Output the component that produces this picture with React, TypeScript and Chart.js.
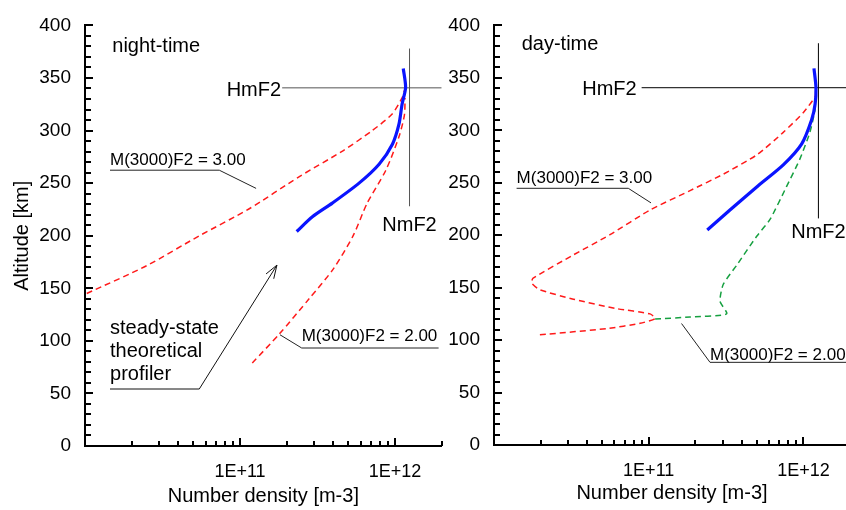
import React, { useEffect, useRef } from 'react';
import { Chart, registerables } from 'chart.js';

Chart.register(...registerables);

const FONT = '"Liberation Sans", Arial, Helvetica, sans-serif';
Chart.defaults.font.family = FONT;
Chart.defaults.color = '#000';

// ---- data: densities in units of 1e11 m-3, altitudes in km ----
// night-time
const nightBlueN = [2.32, 2.93, 3.94, 5.86, 7.89, 9.62, 10.6, 11.1, 11.7, 11.3];
const nightBlueH = [204, 218, 231, 250, 268, 287, 306, 325, 341, 359];
const nightM3N = [0.1026, 0.25, 0.543, 1.14, 2.4, 4.64, 7.13, 9.55, 11.1, 11.5];
const nightM3H = [145, 171.5, 199.7, 225.4, 256, 281, 300, 315.5, 331, 338];
const nightM2N = [1.2, 1.78, 2.79, 3.98, 5.37, 6.61, 8.71, 10.6, 11.5, 11.6];
const nightM2H = [79, 106, 140, 168, 200, 231, 262, 294, 315, 331];
// day-time
const dayBlueN = [2.39, 3.35, 4.99, 7.41, 9.75, 11.3, 11.9, 12.05, 11.7];
const dayBlueH = [205, 224, 246, 267, 287, 310, 325, 341, 359];
const dayM3N = [0.198, 0.536, 0.879, 1.1, 1.02, 0.621, 0.326, 0.198, 0.175, 0.179, 0.324, 0.562, 1.02, 1.85, 3.02, 4.99, 7.41, 10.0, 11.9, 12.0];
const dayM3H = [105, 111, 116, 120.5, 125, 130, 139, 148, 154.5, 159, 181, 200.5, 224, 242.5, 258, 276.5, 298, 317, 332, 338];
const dayM2N = [1.1, 1.85, 3.19, 2.89, 3.03, 3.71, 4.99, 6.08, 7.76, 9.51, 11.0, 11.9, 12.0];
const dayM2H = [120, 122, 125, 137, 153, 171.5, 199, 215, 246, 273, 298, 320, 332];

// reference markers (HmF2 / NmF2)
const nightHm = { h: 340.6, from: 1.87, to: 20 };
const nightNm = { n: 12.4, from: 228, to: 378 };
const dayHm = { h: 340.6, from: 0.9, to: 20 };
const dayNm = { n: 12.5, from: 216, to: 383 };

// axes
const xMin = 1e10;
const xMax = 2e12;
const xDecades = [1e10, 1e11, 1e12];
const xMantissas = [1, 2, 3, 4, 5, 6, 7, 8, 9];
const xLabelValues = [1e11, 1e12];
const xLabelTexts = ['1E+11', '1E+12'];
const yMin = 0;
const yMax = 400;
const yMinorStep = 10;
const yMajorStep = 50;

const xTickValues = xDecades.flatMap((d) => xMantissas.map((m) => m * d)).filter((v) => v <= xMax * 1.0001);
const yTickValues: number[] = [];
for (let v = yMin; v <= yMax; v += yMinorStep) yTickValues.push(v);

const BLUE = '#0a14ff';
const RED = '#ff1a1a';
const GREEN = '#16a040';

const pts = (n: number[], h: number[]) => n.map((v, i) => ({ x: v * 1e11, y: h[i] }));

type Note =
  | { kind: 'text'; x: number; y: number; text: string; size: number; align: CanvasTextAlign }
  | { kind: 'path'; p: [number, number][]; color: string; width: number; arrow?: boolean };

const nightNotes: Note[] = [
  { kind: 'text', x: 0.15, y: 380, text: 'night-time', size: 20, align: 'left' },
  { kind: 'text', x: 1.84, y: 338, text: 'HmF2', size: 20, align: 'right' },
  { kind: 'text', x: 12.4, y: 210, text: 'NmF2', size: 20, align: 'center' },
  { kind: 'text', x: 0.145, y: 272, text: 'M(3000)F2 = 3.00', size: 17, align: 'left' },
  { kind: 'path', p: [[0.145, 262.3], [0.735, 262.3], [1.27, 245]], color: '#222', width: 1 },
  { kind: 'text', x: 2.5, y: 104, text: 'M(3000)F2 = 2.00', size: 17, align: 'left' },
  { kind: 'path', p: [[1.81, 105.8], [2.5, 93.2], [19.1, 93.2]], color: '#222', width: 1 },
  { kind: 'text', x: 0.145, y: 112, text: 'steady-state', size: 20, align: 'left' },
  { kind: 'text', x: 0.145, y: 90, text: 'theoretical', size: 20, align: 'left' },
  { kind: 'text', x: 0.145, y: 68, text: 'profiler', size: 20, align: 'left' },
  { kind: 'path', p: [[0.145, 54.2], [0.546, 54.2], [1.73, 172]], color: '#111', width: 1, arrow: true },
];

const dayNotes: Note[] = [
  { kind: 'text', x: 0.151, y: 381.5, text: 'day-time', size: 20, align: 'left' },
  { kind: 'text', x: 0.836, y: 339, text: 'HmF2', size: 20, align: 'right' },
  { kind: 'text', x: 12.5, y: 203, text: 'NmF2', size: 20, align: 'center' },
  { kind: 'text', x: 0.14, y: 254, text: 'M(3000)F2 = 3.00', size: 17, align: 'left' },
  { kind: 'path', p: [[0.14, 244.7], [0.738, 244.7], [1.035, 230.8]], color: '#222', width: 1 },
  { kind: 'text', x: 2.49, y: 85.7, text: 'M(3000)F2 = 2.00', size: 17, align: 'left' },
  { kind: 'path', p: [[1.63, 115.8], [2.49, 78.8], [20, 78.8]], color: '#222', width: 1 },
];

function drawTickMarks(chart: any) {
  const ctx: CanvasRenderingContext2D = chart.ctx;
  const sx = chart.scales.x;
  const sy = chart.scales.y;
  const left = Math.round(sx.getPixelForValue(xMin));
  const bottom = Math.round(sy.getPixelForValue(yMin));
  ctx.save();
  ctx.fillStyle = '#000000';
  for (const v of yTickValues) {
    const p = Math.round(sy.getPixelForValue(v));
    const len = v % yMajorStep === 0 ? 8 : 6;
    ctx.fillRect(left, p - 1, len, 2);
  }
  for (const v of xTickValues) {
    if (v <= xMin) continue;
    const p = Math.round(sx.getPixelForValue(v));
    const major = xLabelValues.some((t) => Math.abs(Math.log10(t) - Math.log10(v)) < 1e-6);
    const len = major ? 8 : 5;
    ctx.fillRect(p - 1, bottom - len, 2, len);
  }
  ctx.restore();
}

const tickPlugin = {
  id: 'tickmarks',
  afterDatasetsDraw(chart: any) {
    drawTickMarks(chart);
  },
  afterDraw(chart: any) {
    drawTickMarks(chart);
  },
};

const overlayPlugin = (notes: Note[]) => ({
  id: 'overlay',
  afterDraw(chart: any) {
    const ctx: CanvasRenderingContext2D = chart.ctx;
    const sx = chart.scales.x;
    const sy = chart.scales.y;
    const px = (v: number) => sx.getPixelForValue(v * 1e11);
    const py = (v: number) => sy.getPixelForValue(v);
    ctx.save();
    ctx.setLineDash([]);
    for (const n of notes) {
      if (n.kind === 'text') {
        ctx.font = `${n.size}px ${FONT}`;
        ctx.fillStyle = '#000';
        ctx.textAlign = n.align;
        ctx.textBaseline = 'middle';
        ctx.fillText(n.text, px(n.x), py(n.y));
      } else {
        ctx.strokeStyle = n.color;
        ctx.lineWidth = n.width;
        ctx.beginPath();
        n.p.forEach(([a, b], i) => (i ? ctx.lineTo(px(a), py(b)) : ctx.moveTo(px(a), py(b))));
        ctx.stroke();
        if (n.arrow) {
          const [a1, b1] = n.p[n.p.length - 2];
          const [a2, b2] = n.p[n.p.length - 1];
          const x1 = px(a1), y1 = py(b1), x2 = px(a2), y2 = py(b2);
          const ang = Math.atan2(y2 - y1, x2 - x1);
          const L = 14, w = 0.33;
          ctx.beginPath();
          ctx.moveTo(x2 - L * Math.cos(ang - w), y2 - L * Math.sin(ang - w));
          ctx.lineTo(x2, y2);
          ctx.lineTo(x2 - L * Math.cos(ang + w), y2 - L * Math.sin(ang + w));
          ctx.stroke();
        }
      }
    }
    ctx.restore();
  },
});

const lineDs = (data: any[], color: string, width: number, dash: number[] = [], tension = 0.25) => ({
  data,
  showLine: true,
  borderColor: color,
  backgroundColor: color,
  borderWidth: width,
  borderDash: dash,
  pointRadius: 0,
  tension,
  fill: false,
});

function makeConfig(opts: {
  blue: any[];
  curves: any[];
  hm: { h: number; from: number; to: number };
  nm: { n: number; from: number; to: number };
  refColor: string;
  padTop: number;
  padRight: number;
  yWidth: number;
  xHeight: number;
  yTitle: boolean;
  xTitlePad: number;
  notes: Note[];
}) {
  return {
    type: 'scatter' as const,
    data: {
      datasets: [
        lineDs(opts.blue, BLUE, 3.2),
        ...opts.curves,
        lineDs([{ x: opts.hm.from * 1e11, y: opts.hm.h }, { x: opts.hm.to * 1e11, y: opts.hm.h }], opts.refColor, 1, [], 0),
        lineDs([{ x: opts.nm.n * 1e11, y: opts.nm.from }, { x: opts.nm.n * 1e11, y: opts.nm.to }], opts.refColor, 1, [], 0),
      ],
    },
    options: {
      responsive: false,
      animation: false,
      layout: { padding: { left: 0, top: opts.padTop, right: opts.padRight, bottom: 0 } },
      plugins: { legend: { display: false }, tooltip: { enabled: false } },
      scales: {
        x: {
          type: 'logarithmic',
          position: 'bottom',
          min: xMin,
          max: xMax,
          afterBuildTicks: (s: any) => {
            s.ticks = xTickValues.map((v) => ({ value: v }));
          },
          afterFit: (s: any) => {
            s.height = opts.xHeight;
          },
          grid: { display: false, drawTicks: false },
          border: { display: true, color: '#000', width: 2 },
          ticks: {
            autoSkip: false,
            maxRotation: 0,
            minRotation: 0,
            padding: 15,
            color: '#000',
            font: { size: 18 },
            callback: (v: any) => {
              const i = xLabelValues.findIndex((t) => Math.abs(Math.log10(t) - Math.log10(Number(v))) < 1e-6);
              return i >= 0 ? xLabelTexts[i] : '';
            },
          },
          title: {
            display: true,
            text: 'Number density [m-3]',
            color: '#000',
            font: { size: 20 },
            padding: { top: 0, bottom: opts.xTitlePad },
          },
        },
        y: {
          type: 'linear',
          min: yMin,
          max: yMax,
          afterFit: (s: any) => {
            s.width = opts.yWidth;
          },
          grid: { display: false, drawTicks: false },
          border: { display: true, color: '#000', width: 2 },
          ticks: {
            stepSize: yMinorStep,
            autoSkip: false,
            padding: 14,
            color: '#000',
            font: { size: 19 },
            callback: (v: any) => (Number(v) % yMajorStep === 0 ? String(v) : ''),
          },
          title: {
            display: opts.yTitle,
            text: 'Altitude [km]',
            color: '#000',
            font: { size: 20 },
            padding: { top: 10, bottom: 0 },
          },
        },
      },
    },
    plugins: [tickPlugin, overlayPlugin(opts.notes)],
  };
}

export default function App() {
  const leftRef = useRef<HTMLCanvasElement>(null);
  const rightRef = useRef<HTMLCanvasElement>(null);

  useEffect(() => {
    const dash = [6, 4];
    const left = new Chart(
      leftRef.current as HTMLCanvasElement,
      makeConfig({
        blue: pts(nightBlueN, nightBlueH),
        curves: [lineDs(pts(nightM3N, nightM3H), RED, 1.5, dash), lineDs(pts(nightM2N, nightM2H), RED, 1.5, dash)],
        hm: nightHm,
        nm: nightNm,
        refColor: '#555',
        padTop: 20,
        padRight: 18.3,
        yWidth: 85,
        xHeight: 64,
        yTitle: true,
        xTitlePad: 2,
        notes: nightNotes,
      }) as any
    );
    const right = new Chart(
      rightRef.current as HTMLCanvasElement,
      makeConfig({
        blue: pts(dayBlueN, dayBlueH),
        curves: [lineDs(pts(dayM3N, dayM3H), RED, 1.5, dash, 0.2), lineDs(pts(dayM2N, dayM2H), GREEN, 1.5, dash, 0.2)],
        hm: dayHm,
        nm: dayNm,
        refColor: '#000',
        padTop: 13,
        padRight: 20,
        yWidth: 54,
        xHeight: 65,
        yTitle: false,
        xTitlePad: 5,
        notes: dayNotes,
      }) as any
    );
    return () => {
      left.destroy();
      right.destroy();
    };
  }, []);

  return (
    <div style={{ position: 'fixed', left: 0, top: 0, width: 846, height: 510, overflow: 'hidden', background: '#fff' }}>
      <canvas ref={leftRef} width={460} height={510} style={{ position: 'absolute', left: 0, top: 0 }} />
      <canvas ref={rightRef} width={430} height={510} style={{ position: 'absolute', left: 440, top: 0 }} />
    </div>
  );
}
